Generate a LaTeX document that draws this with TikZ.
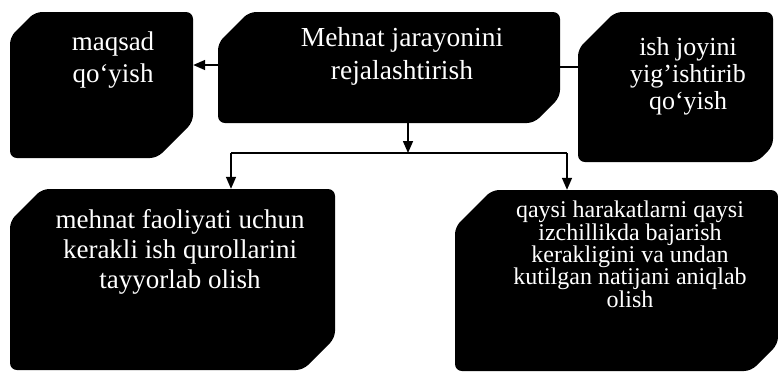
\documentclass[tikz,border=0pt]{standalone}
\usepackage{fontspec}
\setmainfont{Liberation Serif}
\usetikzlibrary{arrows.meta,fit}
\tikzset{
  boxfill/.style={fill=black, rounded corners=7pt},
  lbl/.style={text=white, align=center, inner sep=0pt},
  conn/.style={line width=1.5pt, draw=black},
  arr/.style={conn, -{Triangle[length=12pt,width=10pt]}},
}
\newcommand\cbox[7]{%
  \fill[boxfill] (#2,#3+#6) -- (#2+#6,#3) -- (#4,#3) -- (#4,#5-#7) -- (#4-#7,#5) -- (#2,#5) -- cycle;
  \path (#2,#3) coordinate (#1nw) (#4,#5) coordinate (#1se);
  \node[fit=(#1nw)(#1se), inner sep=0pt] (#1) {};
}
\begin{document}
\begin{tikzpicture}[x=1pt,y=-1pt]
\useasboundingbox (0,0) rectangle (778,373);
% boxes
\cbox{b1}{10}{12}{193}{158}{25}{36}
\cbox{b2}{218}{12}{560}{123}{31}{26}
\cbox{b3}{578}{12}{773}{162}{37}{16}
\cbox{b4}{10}{189}{335}{370}{32}{32}
\cbox{b5}{455}{190}{778}{371}{37}{27}
% texts (anchor=base is the last line's baseline)
\node[lbl, font=\fontsize{27}{32}\selectfont, anchor=base] (t1) at (113,82) {maqsad\\qo`yish};
\node[lbl, font=\fontsize{27.5}{33}\selectfont, anchor=base] (t2) at (402,79) {Mehnat jarayonini\\rejalashtirish};
\node[lbl, font=\fontsize{26}{27}\selectfont, anchor=base] (t3) at (688,109) {ish joyini\\yig'ishtirib\\qo`yish};
\node[lbl, font=\fontsize{27}{30}\selectfont, anchor=base] (t4) at (180,288) {mehnat faoliyati uchun\\kerakli ish qurollarini\\tayyorlab olish};
\node[lbl, font=\fontsize{24}{22.3}\selectfont, anchor=base] (t5) at (630,307) {qaysi harakatlarni qaysi\\izchillikda bajarish\\kerakligini va undan\\kutilgan natijani aniqlab\\olish};
% connectors
\coordinate (j) at (408,153);
\coordinate (hl) at (231,153);
\coordinate (hr) at (567,153);
\draw[arr] (b2.west |- 0,65) -- (b1.east |- 0,65);
\draw[conn] (b2.east |- 0,67) -- (b3.west |- 0,67);
\draw[arr] (j |- b2.south) -- (j);
\draw[conn] (hl) -- (hr);
\draw[arr] (hl) -- (hl |- b4.north);
\draw[arr] (hr) -- (hr |- b5.north);
\end{tikzpicture}
\end{document}
